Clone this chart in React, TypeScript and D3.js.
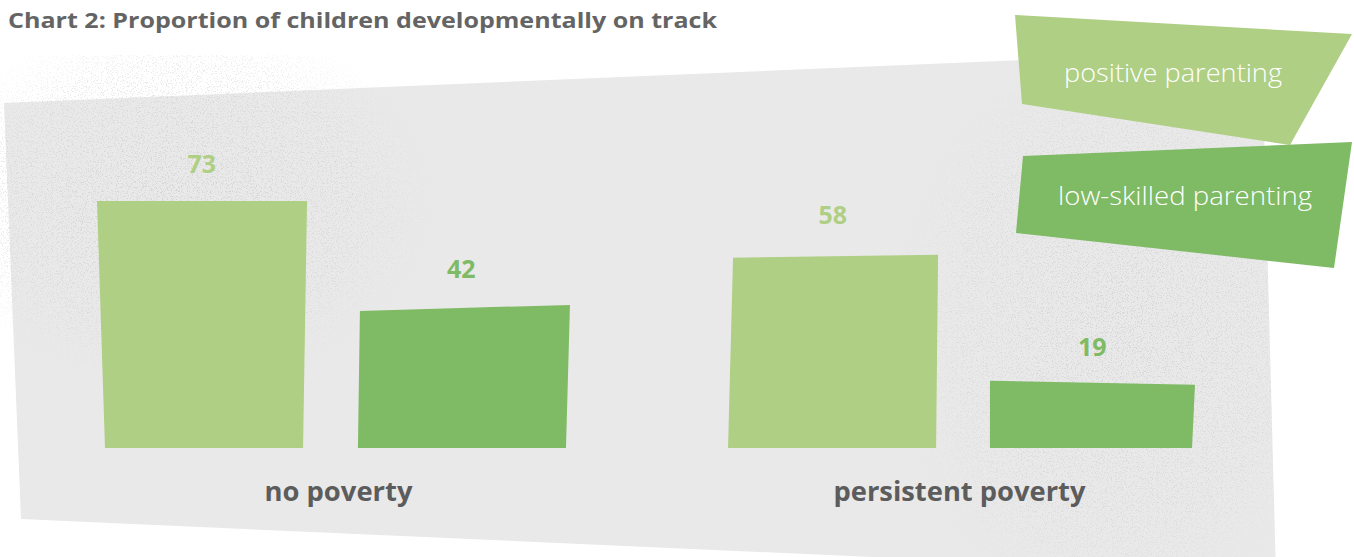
import React from "react";
import * as d3 from "d3";

// ---- data ----
const categories = ["no poverty", "persistent poverty"];
const seriesNames = ["positive parenting", "low-skilled parenting"];
const positiveValues = [73, 58];
const lowSkilledValues = [42, 19];
const title = "Chart 2: Proportion of children developmentally on track";

// ---- style ----
const W = 1354;
const H = 557;
const COLORS = ["#afcf84", "#7fba65"];
const BG = "#e9e9e9";
const TEXT_GREY = "#646464";
// hand-drawn corner wobble per [category][series]
const BAR_WOBBLE = [
  [
    { tl: [-1, 0], tr: [1.5, 0], br: -2.5, bl: 7 },
    { tl: [2.5, 5], tr: [5, -1], br: 1, bl: 0.5 },
  ],
  [
    { tl: [4, 6], tr: [1.5, 3], br: -0.5, bl: -1 },
    { tl: [1.5, -3], tr: [-1, 1], br: -4, bl: 1.5 },
  ],
];
const CAT_LABEL_DX = [7, -3];
const CAT_LABEL_LEN = [148, 252];
const BG_SHAPE: [number, number][] = [
  [4, 103],
  [1262, 50],
  [1276, 575],
  [21, 519],
];
const LEGEND_SHAPES: { pts: [number, number][]; tx: number; ty: number; len: number }[] = [
  { pts: [[1015, 15], [1352, 34], [1290, 145], [1022, 104]], tx: 1173, ty: 82, len: 218 },
  { pts: [[1023, 156], [1352, 142], [1334, 268], [1016, 233]], tx: 1185, ty: 205, len: 254 },
];

export default function App() {
  const values = [positiveValues, lowSkilledValues];
  const maxV = d3.max([...positiveValues, ...lowSkilledValues]) as number;

  const xGroup = d3
    .scaleBand<string>()
    .domain(categories)
    .range([98, 1196])
    .paddingInner(0.26)
    .paddingOuter(0);
  const xSeries = d3
    .scaleBand<string>()
    .domain(seriesNames)
    .range([0, xGroup.bandwidth()])
    .paddingInner(0.2);
  const y = d3.scaleLinear().domain([0, maxV]).range([448, 201]);

  const line = d3.line<[number, number]>().x((d) => d[0]).y((d) => d[1]);
  const closed = (pts: [number, number][]) => (line(pts) || "") + "Z";

  const bars: any[] = [];
  categories.forEach((cat, ci) => {
    seriesNames.forEach((s, si) => {
      const v = values[si][ci];
      const xa = (xGroup(cat) as number) + (xSeries(s) as number);
      const xb = xa + xSeries.bandwidth();
      const top = y(v);
      const base = y(0);
      const w = BAR_WOBBLE[ci][si];
      const pts: [number, number][] = [
        [xa + w.tl[0], top + w.tl[1]],
        [xb + w.tr[0], top + w.tr[1]],
        [xb + w.br, base],
        [xa + w.bl, base],
      ];
      bars.push({ key: cat + s, d: closed(pts), fill: COLORS[si], v, cx: (xa + xb) / 2, top });
    });
  });

  return (
    <svg
      width={W}
      height={H}
      viewBox={`0 0 ${W} ${H}`}
      style={{ position: "absolute", left: 0, top: 0, display: "block", background: "#fff" }}
    >
      <defs>
        <filter id="speckle" x="0" y="0" width="100%" height="100%">
          <feTurbulence type="fractalNoise" baseFrequency="0.8" numOctaves="2" seed="7" result="n" />
          <feColorMatrix
            in="n"
            type="matrix"
            values="0 0 0 0 0.55  0 0 0 0 0.55  0 0 0 0 0.55  9 0 0 0 -5.0"
          />
        </filter>
        <radialGradient id="fadeL" cx="0.5" cy="0.5" r="0.5">
          <stop offset="0" stopColor="#fff" stopOpacity="1" />
          <stop offset="0.7" stopColor="#fff" stopOpacity="0.6" />
          <stop offset="1" stopColor="#fff" stopOpacity="0" />
        </radialGradient>
        <mask id="maskL">
          <ellipse cx="180" cy="200" rx="260" ry="190" fill="url(#fadeL)" />
        </mask>
        <mask id="maskR">
          <ellipse cx="1120" cy="330" rx="230" ry="290" fill="url(#fadeL)" />
        </mask>
        <clipPath id="bgClip">
          <path d={closed(BG_SHAPE)} />
        </clipPath>
      </defs>

      <text
        x={8}
        y={28}
        fontFamily="'Open Sans', sans-serif"
        fontWeight={700}
        fontSize={22}
        fill={TEXT_GREY}
        textLength={709}
        lengthAdjust="spacingAndGlyphs"
      >
        {title}
      </text>

      <path d={closed(BG_SHAPE)} fill={BG} />
      <g opacity={0.55}>
        <rect x={0} y={55} width={480} height={360} filter="url(#speckle)" mask="url(#maskL)" />
      </g>
      <g opacity={0.5} clipPath="url(#bgClip)">
        <rect x={880} y={40} width={474} height={517} filter="url(#speckle)" mask="url(#maskR)" />
      </g>

      {bars.map((b) => (
        <g key={b.key}>
          <path d={b.d} fill={b.fill} />
          <text
            x={b.cx}
            y={b.top - 28}
            textAnchor="middle"
            fontFamily="'Open Sans', sans-serif"
            fontWeight={700}
            fontSize={25}
            fill={b.fill}
          >
            {b.v}
          </text>
        </g>
      ))}

      {categories.map((c, i) => (
        <text
          key={c}
          x={(xGroup(c) as number) + xGroup.bandwidth() / 2 + CAT_LABEL_DX[i]}
          y={501}
          textAnchor="middle"
          fontFamily="'Open Sans', sans-serif"
          fontWeight={700}
          fontSize={26}
          fill="#5c5c5c"
          textLength={CAT_LABEL_LEN[i]}
          lengthAdjust="spacingAndGlyphs"
        >
          {c}
        </text>
      ))}

      {LEGEND_SHAPES.map((l, i) => (
        <g key={seriesNames[i]}>
          <path d={closed(l.pts)} fill={COLORS[i]} />
          <text
            x={l.tx}
            y={l.ty}
            textAnchor="middle"
            fontFamily="'Open Sans', sans-serif"
            fontWeight={300}
            fontSize={25}
            fill="#ffffff"
            textLength={l.len}
            lengthAdjust="spacingAndGlyphs"
          >
            {seriesNames[i]}
          </text>
        </g>
      ))}
    </svg>
  );
}
